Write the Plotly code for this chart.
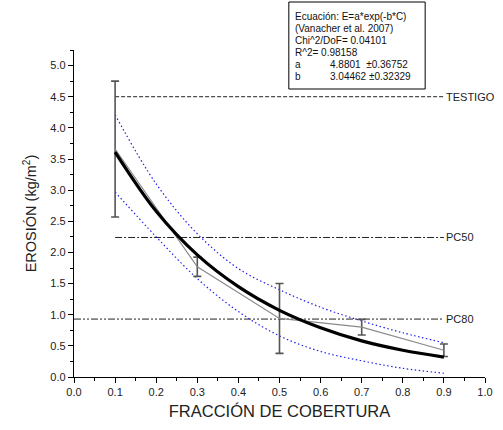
import plotly.graph_objects as go

# Observed data (means and symmetric error)
x_obs = [0.1, 0.3, 0.5, 0.7, 0.9]
y_obs = [3.66, 1.77, 0.94, 0.80, 0.43]
err_obs = [1.09, 0.155, 0.56, 0.125, 0.10]

# Fitted curve E = a*exp(-b*C)
x_fit = [0.1, 0.2, 0.3, 0.4, 0.5, 0.6, 0.7, 0.8, 0.9]
y_fit = [3.61, 2.66, 1.96, 1.45, 1.07, 0.79, 0.58, 0.43, 0.32]
y_upper = [4.21, 3.10, 2.30, 1.74, 1.40, 1.12, 0.90, 0.71, 0.55]
y_lower = [2.97, 2.25, 1.58, 1.05, 0.66, 0.41, 0.26, 0.14, 0.06]

# Reference lines
ref_names = ["TESTIGO", "PC50", "PC80"]
ref_values = [4.5, 2.24, 0.93]
ref_x_start = [0.1, 0.1, 0.0]
ref_x_end = [0.9, 0.9, 0.9]
ref_dash = ["4px,2px", "7px,2px,2px,2px", "7px,2px,2px,2px,2px,2px"]

box_lines = [
    "Ecuación: E=a*exp(-b*C)",
    "(Vanacher et al. 2007)",
    "Chi^2/DoF= 0.04101",
    "R^2= 0.98158",
]
param_names = ["a", "b"]
param_values = ["4.8801  ±0.36752", "3.04462 ±0.32329"]

FONT = "Liberation Sans, Arial, sans-serif"

fig = go.Figure()

for name, val, x0, x1, d in zip(ref_names, ref_values, ref_x_start, ref_x_end, ref_dash):
    fig.add_trace(go.Scatter(x=[x0, x1], y=[val, val], mode="lines",
                             line=dict(color="#222222", width=1, dash=d),
                             showlegend=False, hoverinfo="skip"))
    fig.add_annotation(x=x1, y=val, text=name, showarrow=False, xanchor="left",
                       yanchor="middle", xshift=0,
                       font=dict(family=FONT, size=11, color="#222222"))

fig.add_trace(go.Scatter(x=x_fit, y=y_upper, mode="lines", line_shape="spline",
                         line=dict(color="#2222ee", width=1.2, dash="1.5px,2.5px"),
                         showlegend=False))
fig.add_trace(go.Scatter(x=x_fit, y=y_lower, mode="lines", line_shape="spline",
                         line=dict(color="#2222ee", width=1.2, dash="1.5px,2.5px"),
                         showlegend=False))

fig.add_trace(go.Scatter(x=x_obs, y=y_obs, mode="lines",
                         line=dict(color="#8a8a8a", width=1.2),
                         error_y=dict(type="data", array=err_obs, visible=True,
                                      color="#555555", thickness=1.6, width=4),
                         showlegend=False))

fig.add_trace(go.Scatter(x=x_fit, y=y_fit, mode="lines", line_shape="spline",
                         line=dict(color="black", width=3.2),
                         showlegend=False))

# Text box
L, T, W, H = 74, 50, 419, 327
def px(v):
    return (v - L) / W
def py(v):
    return (T + H - v) / H

fig.add_shape(type="rect", xref="paper", yref="paper",
              x0=px(293), x1=px(432), y0=py(89), y1=py(2),
              line=dict(color="black", width=1), fillcolor="white")
line_y = [17, 29, 41, 52, 64, 76]
for i, t in enumerate(box_lines):
    fig.add_annotation(xref="paper", yref="paper", x=px(297), y=py(line_y[i]),
                       text=t, showarrow=False, xanchor="left", yanchor="middle",
                       font=dict(family=FONT, size=10, color="#111111"))
for j, (n, v) in enumerate(zip(param_names, param_values)):
    yy = py(line_y[4 + j])
    fig.add_annotation(xref="paper", yref="paper", x=px(297), y=yy, text=n,
                       showarrow=False, xanchor="left", yanchor="middle",
                       font=dict(family=FONT, size=10, color="#111111"))
    fig.add_annotation(xref="paper", yref="paper", x=px(333), y=yy, text=v,
                       showarrow=False, xanchor="left", yanchor="middle",
                       font=dict(family=FONT, size=10, color="#111111"))

axis_common = dict(showline=True, linecolor="black", linewidth=1.3, mirror=False,
                   showgrid=False, zeroline=False, ticks="outside", ticklen=5,
                   tickwidth=1.2, tickcolor="black", tickformat=".1f",
                   tickfont=dict(family=FONT, size=11, color="#222222"))

fig.update_xaxes(range=[0, 1.0], dtick=0.1, tick0=0,
                 minor=dict(dtick=0.05, ticks="outside", ticklen=3, tickcolor="black"),
                 title=dict(text="FRACCIÓN DE COBERTURA",
                            font=dict(family=FONT, size=16.5, color="#222222"),
                            standoff=8),
                 **axis_common)
fig.update_yaxes(range=[0, 5.25], dtick=0.5, tick0=0,
                 minor=dict(dtick=0.25, ticks="outside", ticklen=3, tickcolor="black"),
                 title=dict(text="EROSIÓN (kg/m<sup>2</sup>)",
                            font=dict(family=FONT, size=14.5, color="#222222"),
                            standoff=10),
                 **axis_common)

fig.update_layout(width=503, height=430, autosize=False,
                  margin=dict(l=L, r=503 - L - W, t=T, b=430 - T - H),
                  plot_bgcolor="white", paper_bgcolor="white", showlegend=False)

fig.write_html("out.html")
